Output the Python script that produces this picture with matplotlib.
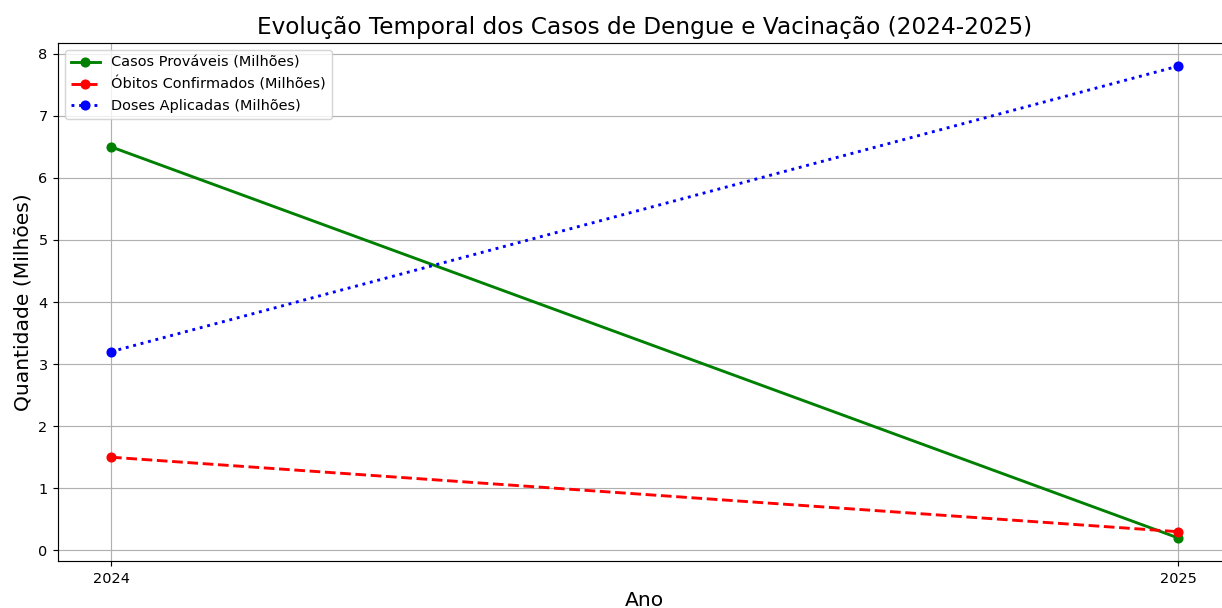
import matplotlib.pyplot as plt

anos = [2024, 2025]
casos = [6.5, 0.2]
obitos = [1.5, 0.3]
doses = [3.2, 7.8]

fig = plt.figure(figsize=(1222 / 104, 608 / 104), dpi=104)
ax = fig.add_axes([0.0472, 0.0765, 0.9605, 0.8535])

ax.plot(anos, casos, color="green", linestyle="-", marker="o", linewidth=2, label="Casos Prováveis (Milhões)")
ax.plot(anos, obitos, color="red", linestyle="--", marker="o", linewidth=2, label="Óbitos Confirmados (Milhões)")
ax.plot(anos, doses, color="blue", linestyle=":", marker="o", linewidth=2, label="Doses Aplicadas (Milhões)")

ax.set_title("Evolução Temporal dos Casos de Dengue e Vacinação (2024-2025)", fontsize=16)
ax.set_xlabel("Ano", fontsize=14)
ax.set_ylabel("Quantidade (Milhões)", fontsize=14)
ax.set_xticks(anos)
ax.grid(True)
ax.legend(loc="upper left")

fig.savefig("out.png", dpi=104)
